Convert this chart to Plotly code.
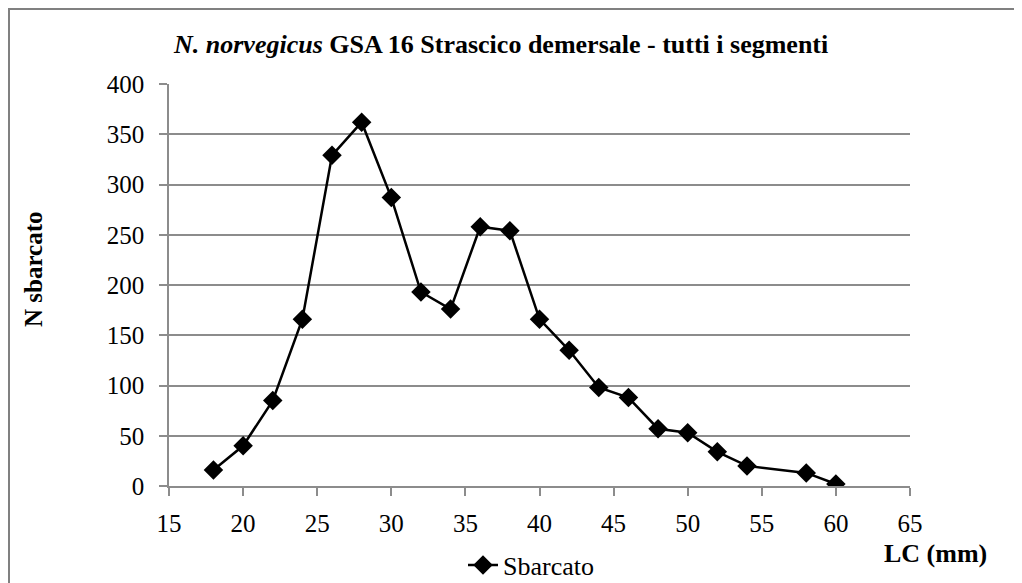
import plotly.graph_objects as go

lc_mm = [18, 20, 22, 24, 26, 28, 30, 32, 34, 36, 38, 40, 42, 44, 46, 48, 50, 52, 54, 58, 60]
n_sbarcato = [16, 40, 85, 166, 329, 362, 287, 193, 176, 258, 254, 166, 135, 98, 88, 57, 53, 34, 20, 13, 2]
series_name = "Sbarcato"
x_ticks = [15, 20, 25, 30, 35, 40, 45, 50, 55, 60, 65]
y_ticks = [0, 50, 100, 150, 200, 250, 300, 350, 400]

FONT = "Liberation Serif, Times New Roman, serif"
GRAY = "#8c8c8c"

fig = go.Figure()
fig.add_trace(go.Scatter(
    x=lc_mm, y=n_sbarcato, mode="lines+markers", name=series_name,
    line=dict(color="black", width=2.5),
    marker=dict(symbol="diamond", size=15, color="black"),
))

# figure sits inside the page body (8px offset), so it is 8px smaller
W, H = 1014, 575
L, R, T, B = 161, 112, 76, 97
pw, ph = W - L - R, H - T - B

def px(x):
    return (x - L) / pw

def py(y):
    return (H - B - y) / ph

fig.update_layout(
    width=W, height=H,
    margin=dict(l=L, r=R, t=T, b=B, autoexpand=False),
    paper_bgcolor="white", plot_bgcolor="white",
    font=dict(family=FONT, size=25, color="black"),
    showlegend=True,
    legend=dict(orientation="h", x=px(455), y=py(557), xanchor="left", yanchor="middle",
                font=dict(family=FONT, size=26, color="black"), bgcolor="rgba(0,0,0,0)"),
    xaxis=dict(range=[15, 65], tickvals=x_ticks, showgrid=False, zeroline=False,
               showline=True, linecolor=GRAY, linewidth=1.5,
               ticks="outside", ticklen=8, tickcolor=GRAY, tickwidth=1.5,
               ticklabelstandoff=6,
               tickfont=dict(family=FONT, size=25, color="black")),
    yaxis=dict(range=[0, 400], tickvals=y_ticks, showgrid=True, gridcolor=GRAY, gridwidth=1.5,
               zeroline=False, showline=True, linecolor=GRAY, linewidth=1.5,
               ticks="outside", ticklen=8, tickcolor=GRAY, tickwidth=1.5,
               ticklabelstandoff=10,
               tickfont=dict(family=FONT, size=25, color="black")),
    annotations=[
        dict(text="<i>N. norvegicus</i> GSA 16 Strascico demersale - tutti i segmenti",
             x=px(163), y=py(36), xref="paper", yref="paper", showarrow=False,
             xanchor="left", yanchor="middle",
             font=dict(family=FONT, size=26, color="black", weight="bold")),
        dict(text="N sbarcato", x=px(25), y=py(261), xref="paper", yref="paper",
             showarrow=False, textangle=-90, xanchor="center", yanchor="middle",
             font=dict(family=FONT, size=25, color="black", weight="bold")),
        dict(text="LC (mm)", x=px(927), y=py(545), xref="paper", yref="paper",
             showarrow=False, xanchor="center", yanchor="middle",
             font=dict(family=FONT, size=26, color="black", weight="bold")),
    ],
    shapes=[
        dict(type="line", xref="paper", yref="paper", x0=px(0), x1=px(W), y0=py(1), y1=py(1),
             line=dict(color="#808080", width=2)),
        dict(type="line", xref="paper", yref="paper", x0=px(1), x1=px(1), y0=py(0), y1=py(H),
             line=dict(color="#808080", width=2)),
    ],
)

fig.write_html("out.html")
